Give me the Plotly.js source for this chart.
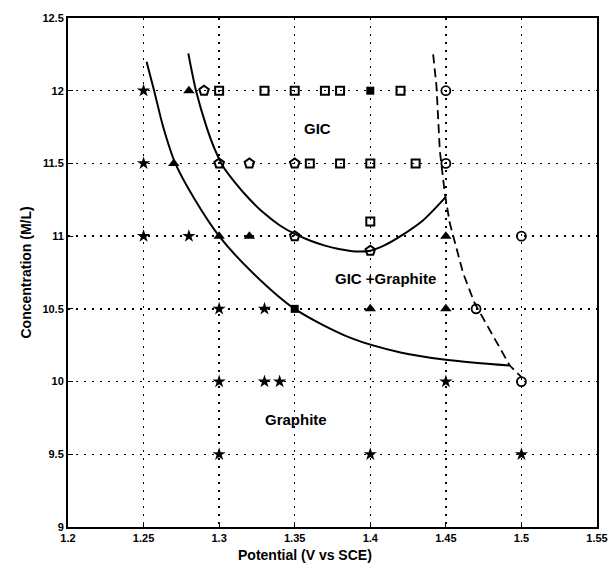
<!DOCTYPE html>
<html>
<head>
<meta charset="utf-8">
<script src="https://cdn.plot.ly/plotly-3.0.1.min.js"></script>
<style>html,body{margin:0;padding:0;background:#fff;}#chart{width:611px;height:577px;}</style>
</head>
<body>
<div id="chart"></div>
<script>
// Data points (Potential V vs SCE, Concentration M/L)
var starX = [1.25, 1.25, 1.25, 1.28, 1.30, 1.33, 1.30, 1.33, 1.34, 1.45, 1.30, 1.40, 1.50];
var starY = [12, 11.5, 11, 11, 10.5, 10.5, 10, 10, 10, 10, 9.5, 9.5, 9.5];

var triX = [1.28, 1.27, 1.30, 1.32, 1.45, 1.40, 1.45];
var triY = [12, 11.5, 11, 11, 11, 10.5, 10.5];

var houseX = [1.29, 1.30, 1.32, 1.35, 1.35, 1.40];
var houseY = [12, 11.5, 11.5, 11.5, 11, 10.9];

var sqX = [1.30, 1.33, 1.35, 1.37, 1.38, 1.42, 1.36, 1.38, 1.40, 1.43, 1.40];
var sqY = [12, 12, 12, 12, 12, 12, 11.5, 11.5, 11.5, 11.5, 11.1];

var fsqX = [1.40, 1.35];
var fsqY = [12, 10.5];

var circX = [1.45, 1.45, 1.50, 1.47, 1.50];
var circY = [12, 11.5, 11, 10.5, 10];

// Phase boundaries
var lowerX = [1.252, 1.257, 1.263, 1.271, 1.284, 1.30, 1.322, 1.35, 1.387, 1.42, 1.45, 1.492];
var lowerY = [12.2, 12.0, 11.75, 11.5, 11.25, 11.0, 10.75, 10.5, 10.3, 10.2, 10.15, 10.11];

var upperX = [1.2796, 1.2847, 1.2917, 1.297, 1.3025, 1.31, 1.32, 1.33, 1.34, 1.35, 1.36, 1.37, 1.38, 1.39, 1.40, 1.41, 1.42, 1.435, 1.45];
var upperY = [12.257, 12.0, 11.75, 11.6, 11.48, 11.375, 11.255, 11.155, 11.075, 11.015, 10.97, 10.935, 10.91, 10.895, 10.90, 10.94, 11.0, 11.11, 11.27];

var dashX = [1.4416, 1.4438, 1.446, 1.4493, 1.4526, 1.4614, 1.469, 1.4923, 1.50];
var dashY = [12.25, 12.03, 11.59, 11.294, 11.09, 10.746, 10.54, 10.11, 10.03];

var xTicks = [1.2, 1.25, 1.3, 1.35, 1.4, 1.45, 1.5, 1.55];
var yTicks = [9, 9.5, 10, 10.5, 11, 11.5, 12, 12.5];

var regionLabels = ["GIC", "GIC +Graphite", "Graphite"];
var regionX = [1.365, 1.41, 1.351];
var regionY = [11.74, 10.71, 9.74];

var black = "#000";
function mk(sym, size, lw) { return {symbol: sym, size: size, color: black, line: {color: black, width: lw}}; }

var traces = [
  {x: lowerX, y: lowerY, mode: "lines", line: {color: black, width: 2, shape: "spline", smoothing: 0.8}},
  {x: upperX, y: upperY, mode: "lines", line: {color: black, width: 2, shape: "spline", smoothing: 0.8}},
  {x: dashX, y: dashY, mode: "lines", line: {color: black, width: 1.8, dash: "9px,5px"}},
  {x: starX, y: starY, mode: "markers", marker: mk("star", 10, 0)},
  {x: triX, y: triY, mode: "markers", marker: mk("triangle-up", 10, 0)},
  {x: houseX, y: houseY, mode: "markers", marker: mk("pentagon-open", 10, 2)},
  {x: sqX, y: sqY, mode: "markers", marker: mk("square-open", 8, 2)},
  {x: fsqX, y: fsqY, mode: "markers", marker: mk("square", 8, 0)},
  {x: circX, y: circY, mode: "markers", marker: mk("circle-open", 9, 1.8)}
];

var annotations = regionLabels.map(function (t, i) {
  return {x: regionX[i], y: regionY[i], xref: "x", yref: "y", text: t, showarrow: false,
    font: {family: "Liberation Sans, Arial, sans-serif", size: 15, color: black, weight: "bold"}};
});
annotations.push({x: 1.357, y: 0, xref: "x", yref: "paper", yshift: -38, text: "Potential (V vs SCE)",
  showarrow: false, font: {family: "Liberation Sans, Arial, sans-serif", size: 14, color: black, weight: "bold"}});
annotations.push({x: 0, y: 0.5, xref: "paper", yref: "paper", xshift: -53, text: "Concentration (M/L)",
  textangle: -90, showarrow: false, font: {family: "Liberation Sans, Arial, sans-serif", size: 14, color: black, weight: "bold"}});

var axisCommon = {
  showline: true, linecolor: black, linewidth: 2, mirror: true,
  showgrid: true, gridcolor: black, gridwidth: 1.5, griddash: "2px,6px",
  zeroline: false, ticks: "inside", ticklen: 5, tickcolor: black, tickwidth: 1,
  tickfont: {family: "Liberation Sans, Arial, sans-serif", size: 11, color: black, weight: "bold"}
};

var layout = {
  width: 611, height: 577,
  margin: {l: 68, r: 14, t: 18, b: 50},
  paper_bgcolor: "#fff", plot_bgcolor: "#fff",
  showlegend: false,
  xaxis: Object.assign({}, axisCommon, {range: [1.2, 1.55], tickvals: xTicks, ticktext: xTicks.map(String)}),
  yaxis: Object.assign({}, axisCommon, {range: [9, 12.5], tickvals: yTicks, ticktext: yTicks.map(String)}),
  annotations: annotations
};

Plotly.newPlot("chart", traces, layout, {displayModeBar: false, staticPlot: true});
</script>
</body>
</html>
